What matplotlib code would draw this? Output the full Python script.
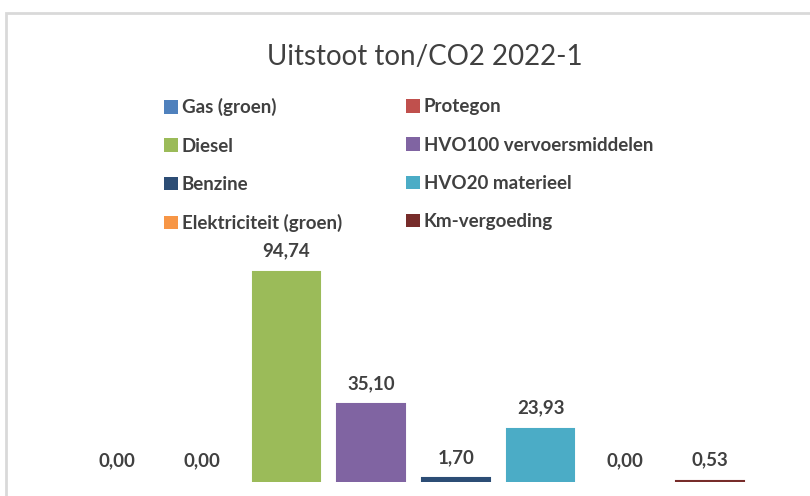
import matplotlib
matplotlib.use("Agg")
import matplotlib.pyplot as plt
from matplotlib.patches import Rectangle, Patch

categories = ["Gas (groen)", "Protegon", "Diesel", "HVO100 vervoersmiddelen",
              "Benzine", "HVO20 materieel", "Elektriciteit (groen)", "Km-vergoeding"]
values = [0.00, 0.00, 94.74, 35.10, 1.70, 23.93, 0.00, 0.53]
colors = ["#4F81BD", "#C0504D", "#9BBB59", "#8064A2",
          "#2C4D75", "#4BACC6", "#F79646", "#772C2A"]
title = "Uitstoot ton/CO2 2022-1"

W, H = 810, 496
fig = plt.figure(figsize=(W / 100, H / 100), dpi=100)
fig.patch.set_facecolor("white")

# outer chart border (cropped at right and bottom)
fig.patches.append(Rectangle((6 / W, -0.1), 1.2, 1 - 13 / H + 0.1,
                             transform=fig.transFigure, fill=False,
                             edgecolor="#D9D9D9", linewidth=2.0))

left_px, right_px = 74.6, 752.4
bottom_px, top_px = 482, 260.3
ax = fig.add_axes([left_px / W, (H - bottom_px) / H,
                   (right_px - left_px) / W, (bottom_px - top_px) / H])
ax.set_xlim(-0.5, len(values) - 0.5)
ax.set_ylim(0, 100)
ax.axis("off")

x = list(range(len(values)))
lws = [1.5 if v > 0 else 0 for v in values]
bars = ax.bar(x, values, width=0.8, color=colors, edgecolor=colors, linewidth=lws)

for xi, v in zip(x, values):
    ax.annotate(f"{v:.2f}".replace(".", ","), (xi, v), xytext=(0, 15),
                textcoords="offset points", ha="center", va="center",
                fontsize=13.5, fontweight="bold", color="#404040", family="Lato")

fig.text(425 / W, 1 - 57 / H, title, ha="center", va="center",
         fontsize=20, color="#404040", family="Lato")

handles = [Patch(facecolor=c, edgecolor="none") for c in colors]
legkw = dict(loc="upper left", frameon=False, borderpad=0, handlelength=0.72,
             handleheight=0.72, handletextpad=0.2, labelspacing=1.13,
             prop={"family": "Lato", "size": 13.5, "weight": "bold"})
for col, x0 in ((0, 155), (1, 397)):
    idx = list(range(col, len(categories), 2))
    leg = fig.legend([handles[i] for i in idx], [categories[i] for i in idx],
                     bbox_to_anchor=(x0 / W, 1 - 89 / H), **legkw)
    for t in leg.get_texts():
        t.set_color("#404040")

fig.savefig("out.png", dpi=100)
